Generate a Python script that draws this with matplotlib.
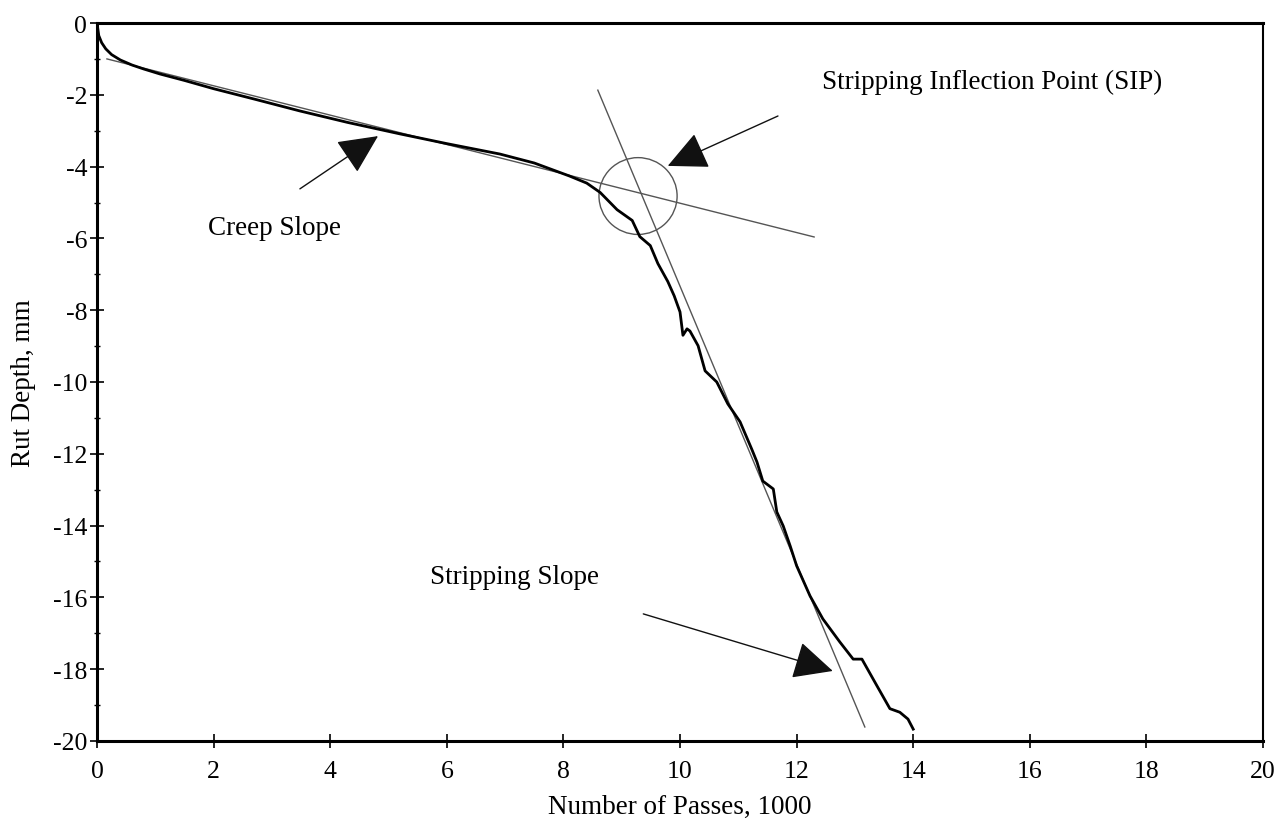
import matplotlib.pyplot as plt
from matplotlib.patches import Ellipse
from matplotlib.ticker import MultipleLocator

# Rut depth curve (passes in 1000s, depth in mm)
passes = [0.0, 0.03, 0.08, 0.15, 0.25, 0.4, 0.6, 0.8, 1.08, 1.5, 2.0, 2.7,
          3.48, 4.3, 5.2, 6.0, 6.91, 7.5, 8.1, 8.4, 8.63, 8.92, 9.18, 9.31,
          9.49, 9.62, 9.79, 9.9, 10.0, 10.05, 10.12, 10.17, 10.31, 10.43,
          10.63, 10.82, 11.03, 11.23, 11.32, 11.42, 11.6, 11.66, 11.77, 11.89,
          12.0, 12.23, 12.45, 12.74, 12.97, 13.12, 13.38, 13.6, 13.77, 13.91,
          14.0]
rut_depth = [0.0, -0.35, -0.55, -0.72, -0.88, -1.03, -1.17, -1.28, -1.42, -1.6,
             -1.83, -2.12, -2.45, -2.77, -3.09, -3.36, -3.65, -3.9, -4.26,
             -4.46, -4.72, -5.2, -5.5, -5.95, -6.2, -6.7, -7.2, -7.6, -8.05,
             -8.7, -8.52, -8.58, -8.99, -9.69, -10.0, -10.61, -11.11, -11.87,
             -12.23, -12.76, -12.98, -13.62, -14.01, -14.57, -15.12, -15.96,
             -16.6, -17.24, -17.72, -17.72, -18.47, -19.1, -19.2, -19.39, -19.67]

# fitted slope lines (two end points each)
creep_x = [0.17, 12.3]
creep_y = [-1.0, -5.96]
strip_x = [8.59, 13.17]
strip_y = [-1.87, -19.61]

sip_center = (9.28, -4.82)

# annotations: label, text position, arrow tail, arrow tip
creep_label = ("Creep Slope", (3.05, -5.71), (3.48, -4.62), (4.82, -3.15))
sip_label = ("Stripping Inflection Point (SIP)", (12.44, -1.64), (11.68, -2.59), (9.79, -3.98))
strip_label = ("Stripping Slope", (5.71, -15.43), (9.37, -16.46), (12.62, -18.05))

plt.rcParams['font.family'] = ['Liberation Serif', 'DejaVu Serif']
plt.rcParams['axes.unicode_minus'] = False

fig = plt.figure(figsize=(12.85, 8.28), dpi=100)
ax = fig.add_axes([0.0755, 0.1039, 0.9074, 0.8671])

ax.plot(passes, rut_depth, color='black', lw=2.0, zorder=3)
ax.plot(creep_x, creep_y, color='#555555', lw=1.0, zorder=2)
ax.plot(strip_x, strip_y, color='#555555', lw=1.0, zorder=2)

ax.add_patch(Ellipse(sip_center, width=1.34, height=2.14, fill=False,
                     edgecolor='#555555', lw=1.0))

for text, pos, tail, tip in [creep_label, sip_label, strip_label]:
    ax.annotate('', xy=tip, xytext=tail,
                arrowprops=dict(arrowstyle='-|>,head_length=1.25,head_width=0.6',
                                color='#111111', lw=1.0, shrinkA=0, shrinkB=0,
                                mutation_scale=20))

ax.text(creep_label[1][0], creep_label[1][1], creep_label[0], fontsize=19.5,
        ha='center', va='center')
ax.text(sip_label[1][0], sip_label[1][1], sip_label[0], fontsize=19.5,
        ha='left', va='center')
ax.text(strip_label[1][0], strip_label[1][1], strip_label[0], fontsize=19.5,
        ha='left', va='center')

ax.set_xlim(0, 20)
ax.set_ylim(-20, 0)
ax.xaxis.set_major_locator(MultipleLocator(2))
ax.yaxis.set_major_locator(MultipleLocator(2))
ax.yaxis.set_minor_locator(MultipleLocator(1))
ax.tick_params(which='major', direction='inout', length=10, width=1.2, labelsize=18.5)
ax.tick_params(which='minor', direction='inout', length=5, width=1.0)
ax.tick_params(axis='x', pad=9)
ax.tick_params(axis='y', pad=2)

for side in ['left', 'bottom', 'top']:
    ax.spines[side].set_linewidth(2.2)
ax.spines['right'].set_linewidth(1.5)

ax.set_xlabel('Number of Passes, 1000', fontsize=19.5, labelpad=8)
ax.set_ylabel('Rut Depth, mm', fontsize=19.5, labelpad=12)

fig.savefig('out.png', dpi=100)
